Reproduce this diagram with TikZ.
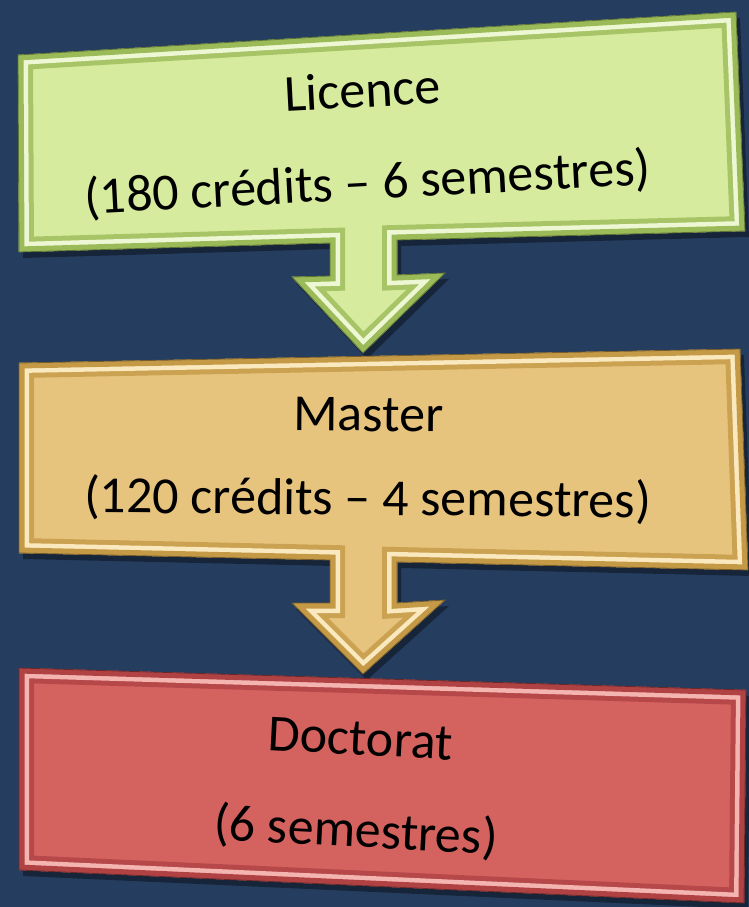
\documentclass[tikz,border=0pt]{standalone}
\usepackage{fontspec}
\setmainfont{Carlito}
\usepackage{tikz}
\usetikzlibrary{positioning}
\definecolor{navy}{RGB}{37,62,96}
\definecolor{licface}{RGB}{214,235,158}
\definecolor{licrim}{RGB}{155,186,88}
\definecolor{liclight}{RGB}{238,247,212}
\definecolor{masface}{RGB}{231,196,126}
\definecolor{masrim}{RGB}{196,154,70}
\definecolor{maslight}{RGB}{250,232,190}
\definecolor{docface}{RGB}{212,98,94}
\definecolor{docrim}{RGB}{176,66,68}
\definecolor{doclight}{RGB}{244,180,176}
\tikzstyle{caption} = [
    align=center,
    text=black,
    inner sep=0pt,
    font=\fontsize{52}{92}\selectfont
]
% bevelled shape: path, face, rim, highlight
\newcommand{\bevelshape}[4]{%
    \fill[black, opacity=0.4, shift={(4pt,-6pt)}] #1;
    \begin{scope}
        \clip #1;
        \fill[#2] #1;
        \draw[#3!80!#2, line width=30pt] #1;
        \draw[#4, line width=20pt] #1;
        \draw[#3, line width=11pt] #1;
    \end{scope}
    \draw[#3!60!black, line width=0.8pt] #1;
}

\begin{document}
\begin{tikzpicture}[x=1pt,y=-1pt]
    % Background
    \fill[navy] (0,0) rectangle (749,907);
    \useasboundingbox (0,0) rectangle (749,907);

    % Licence callout
    \bevelshape{(18,55) -- (736,12) -- (745,231) -- (397,240) -- (397,275) -- (445,273) -- (363,353) -- (292,277) -- (330,276) -- (330,243) -- (19,252) -- cycle}{licface}{licrim}{liclight}

    % Master callout
    \bevelshape{(19,363) -- (740,349) -- (748,570) -- (397,562) -- (397,603) -- (445,600) -- (363,674) -- (292,603) -- (330,603) -- (330,560) -- (19,553) -- cycle}{masface}{masrim}{maslight}

    % Doctorat box
    \bevelshape{(19,668) -- (746,690) -- (744,903) -- (19,870) -- cycle}{docface}{docrim}{doclight}

    % Labels
    \node[caption, rotate=3] (licence) at (365,139) {Licence\\(180 crédits – 6 semestres)};
    \node[caption, rotate=-0.5] (master) at (368,460) {Master\\[-8pt](120 crédits – 4 semestres)};
    \node[caption, rotate=-3] (doctorat) at (358,788) {Doctorat\\(6 semestres)};
\end{tikzpicture}
\end{document}
